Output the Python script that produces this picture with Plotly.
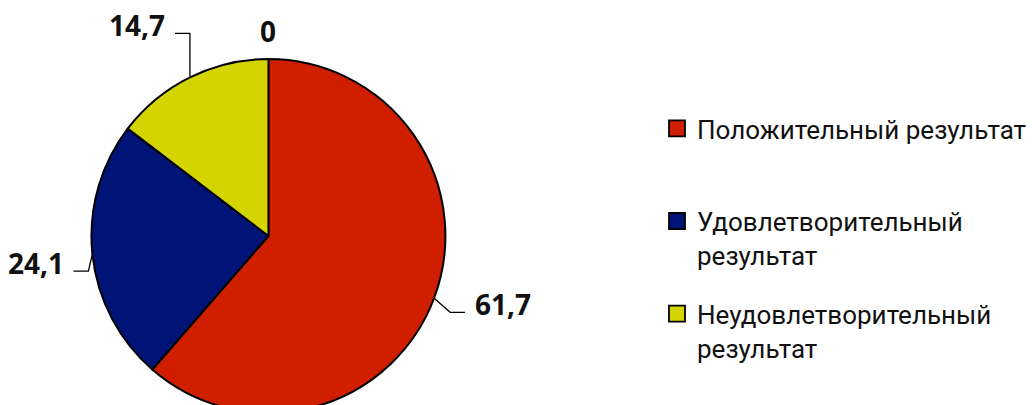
import math
import plotly.graph_objects as go

# ---------------- data ----------------
categories = [
    "Положительный результат",
    "Удовлетворительный результат",
    "Неудовлетворительный результат",
    "Прочее",
]
legend_names = [
    "Положительный результат<br> ",
    "Удовлетворительный<br>результат",
    "Неудовлетворительный<br>результат",
]
values = [61.7, 24.1, 14.7, 0]
value_labels = ["61,7", "24,1", "14,7", "0"]

# ---------------- style / layout ----------------
colors = ["#CF1E00", "#001478", "#D4D400", "#FFFFFF"]
W, H = 1032, 420
cx, cy, r = 270, 236, 178          # pie centre / radius in pixels
# leader line: knee offset from slice edge, tail length, text anchor
label_style = [
    dict(knee=(16, 14), tail=15, anchor="left"),
    dict(knee=(-4, 17), tail=-15, anchor="right"),
    dict(knee=(0, -43), tail=-15, anchor="right"),
    dict(knee=(0, -27), tail=0, anchor="center"),
]
label_font = dict(family="Open Sans", size=28, color="#111111", weight="bold")

fig = go.Figure()

pie_idx = [i for i, v in enumerate(values) if v > 0]
fig.add_trace(go.Pie(
    labels=[categories[i] for i in pie_idx],
    values=[values[i] for i in pie_idx],
    marker=dict(colors=[colors[i] for i in pie_idx], line=dict(color="black", width=2)),
    sort=False,
    direction="clockwise",
    rotation=0,
    textinfo="none",
    hoverinfo="label+value",
    showlegend=False,
    domain=dict(x=[(cx - r) / W, (cx + r) / W], y=[(H - (cy + r)) / H, (H - (cy - r)) / H]),
))

# legend entries (one per category shown in the pie)
for i in pie_idx:
    fig.add_trace(go.Scatter(
        x=[None], y=[None], mode="markers", name=legend_names[i],
        legendgroup=str(i),
        marker=dict(symbol="square", size=16, color=colors[i], line=dict(color="black", width=1.8)),
        hoverinfo="skip",
    ))

total = sum(values)
cum = 0.0
annotations = []
for i, v in enumerate(values):
    mid = (cum + v / 2) / total * 2 * math.pi
    cum += v
    px = cx + r * math.sin(mid)
    py = cy - r * math.cos(mid)
    st = label_style[i]
    kx, ky = px + st["knee"][0], py + st["knee"][1]
    ex = kx + st["tail"]
    if st["tail"] != 0:
        fig.add_trace(go.Scatter(
            x=[px, kx, ex], y=[py, ky, ky], mode="lines",
            line=dict(color="black", width=1.3),
            showlegend=False, hoverinfo="skip",
        ))
        tx = ex + (8 if st["anchor"] == "left" else -8)
        ty = ky - 8
    else:
        tx, ty = kx, ky
    annotations.append(dict(
        x=tx, y=ty, xref="x", yref="y", text=value_labels[i], showarrow=False,
        xanchor=st["anchor"], yanchor="middle", font=label_font,
    ))

fig.update_layout(
    width=W, height=H,
    margin=dict(l=0, r=0, t=0, b=0),
    paper_bgcolor="white", plot_bgcolor="rgba(0,0,0,0)",
    xaxis=dict(range=[0, W], visible=False, fixedrange=True, domain=[0, 1]),
    yaxis=dict(range=[H, 0], visible=False, fixedrange=True, domain=[0, 1]),
    annotations=annotations,
    legend=dict(
        x=661 / W, y=1 - 105 / H, xanchor="left", yanchor="top",
        font=dict(family="Roboto", size=26, color="#111111"),
        valign="top", traceorder="grouped", tracegroupgap=22,
        bgcolor="rgba(0,0,0,0)",
    ),
    showlegend=True,
)

fig.write_html(
    "out.html",
    post_script="document.body.style.margin='0';document.body.style.overflow='hidden';document.documentElement.style.overflow='hidden';",
)
